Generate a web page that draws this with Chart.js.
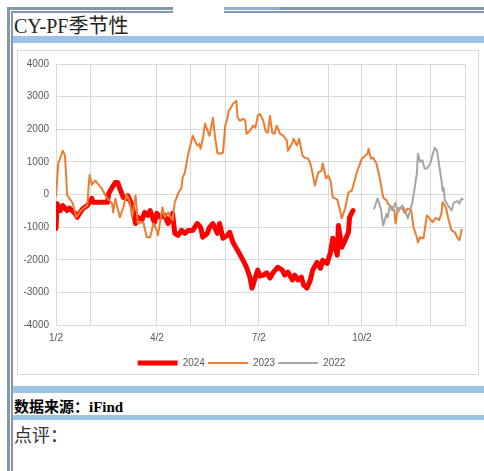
<!DOCTYPE html>
<html>
<head>
<meta charset="utf-8">
<script src="https://cdn.jsdelivr.net/npm/chart.js@4.4.1/dist/chart.umd.min.js"></script>
<style>
    html, body { margin: 0; padding: 0; background: #fff; }
    body { width: 484px; height: 471px; position: relative; overflow: hidden; font-family: "Liberation Serif", "Noto Sans CJK SC", serif; }
    .bar { position: absolute; }
    #title { position: absolute; left: 14px; top: 16px; font-size: 20px; line-height: 20px; color: #222; white-space: nowrap; z-index: 2; }
    #box { position: absolute; left: 17px; top: 50px; width: 462px; height: 325px; border: 1px solid #d9d9d9; box-sizing: border-box; }
    #wrap { position: absolute; left: 18px; top: 51px; width: 460px; height: 327px; }
    #src { position: absolute; left: 14px; top: 395px; font-size: 15px; font-weight: bold; color: #000; white-space: nowrap; }
    #note { position: absolute; left: 14px; top: 421px; font-size: 18px; color: #333; white-space: nowrap; }
</style>
</head>
<body>
<!-- frame lines -->
<div class="bar" style="left:8px;top:7px;width:165px;height:3px;background:#8497b0"></div>
<div class="bar" style="left:11px;top:11px;width:162px;height:2px;background:#8497b0"></div>
<div class="bar" style="left:224px;top:7px;width:56px;height:3px;background:#8eaadb"></div>
<div class="bar" style="left:280px;top:7px;width:204px;height:3px;background:#8497b0"></div>
<div class="bar" style="left:224px;top:11px;width:260px;height:2px;background:#8497b0"></div>
<div class="bar" style="left:7px;top:7px;width:3px;height:464px;background:#8497b0"></div>
<div class="bar" style="left:11px;top:11px;width:2px;height:460px;background:#8497b0"></div>

<div id="title">CY-PF季节性</div>
<div class="bar" style="left:13px;top:36px;width:471px;height:7px;background:#9dc3e6"></div>

<div id="box"></div>
<div id="wrap"><canvas id="seasonChart"></canvas></div>

<div class="bar" style="left:13px;top:386px;width:471px;height:7px;background:#9dc3e6"></div>
<div id="src">数据来源：iFind</div>
<div class="bar" style="left:13px;top:415px;width:471px;height:5px;background:#9dc3e6"></div>
<div id="note">点评：</div>

<script>
// x = days counted from 1/2
const days2024 = [0, 1, 4, 6, 10, 12, 17, 19, 21, 24, 28, 29, 32, 33, 37, 39, 46, 47, 50, 53, 55, 57, 60, 63, 64, 68, 71, 73, 77, 79, 82, 84, 87, 88, 90, 93, 97, 100, 104, 106, 109, 112, 115, 118, 122, 126, 129, 131, 135, 137, 140, 144, 146, 149, 153, 155, 158, 162, 167, 170, 173, 175, 178, 180, 182, 185, 188, 191, 194, 198, 202, 204, 207, 211, 213, 216, 219, 221, 224, 227, 229, 233, 236, 238, 242, 245, 247, 251, 252, 255, 258, 261, 262, 265];
const vals2024 = [-1040, -280, -490, -340, -490, -420, -580, -700, -580, -430, -340, -280, -120, -240, -240, -240, -240, 30, 210, 370, 370, 180, -90, -120, -30, -340, -890, -700, -760, -550, -640, -490, -790, -850, -580, -700, -640, -890, -580, -1190, -1250, -1100, -1190, -1100, -1100, -890, -1000, -1310, -1190, -1010, -890, -1190, -890, -1340, -1250, -1160, -1470, -1710, -2020, -2230, -2530, -2870, -2530, -2320, -2500, -2470, -2400, -2560, -2380, -2230, -2320, -2470, -2380, -2620, -2470, -2620, -2530, -2780, -2870, -2620, -2320, -2080, -2260, -2020, -2110, -1770, -1340, -1860, -950, -1620, -1400, -1160, -700, -490];

const days2023 = [0, 2, 6, 8, 10, 12, 15, 18, 21, 24, 28, 29, 30, 32, 35, 37, 41, 44, 46, 50, 51, 53, 54, 57, 60, 63, 66, 68, 71, 72, 73, 75, 78, 81, 84, 87, 90, 91, 95, 97, 100, 104, 106, 109, 112, 113, 115, 118, 121, 122, 126, 128, 129, 131, 133, 136, 137, 140, 142, 144, 146, 149, 151, 153, 154, 156, 158, 161, 162, 164, 167, 169, 170, 173, 176, 178, 180, 182, 185, 187, 189, 191, 193, 195, 197, 200, 203, 206, 207, 211, 212, 215, 217, 220, 222, 225, 227, 229, 231, 234, 237, 238, 241, 243, 245, 247, 251, 253, 255, 258, 261, 264, 269, 273, 278, 279, 281, 283, 286, 289, 292, 295, 296, 300, 302, 303, 305, 309, 311, 314, 317, 319, 322, 323, 325, 328, 329, 331, 333, 336, 339, 342, 344, 345, 348, 350, 353, 356, 358, 360, 362];
const vals2023 = [-60, 950, 1340, 1190, -30, -120, -275, -700, -550, -430, -340, 210, 600, 300, 430, 340, 180, -30, -120, -275, -550, -120, -275, -700, -400, 0, -240, -700, -30, -400, -890, -860, -860, -1310, -1310, -890, -1100, -1250, -400, -700, -550, -790, -240, 30, 210, 520, 670, 1250, 1650, 1800, 1500, 1550, 1400, 1700, 2170, 1890, 1800, 2350, 1740, 1280, 1250, 1280, 2110, 2320, 2560, 2650, 2780, 2870, 2360, 2260, 2320, 2260, 1860, 1950, 2110, 2050, 2410, 2470, 2260, 1950, 1890, 2410, 1890, 1860, 2110, 1860, 1800, 1650, 1340, 1590, 1710, 1500, 1710, 1190, 1130, 1100, 950, 640, 270, 670, 730, 950, 490, 580, 430, -90, -150, -430, -730, -430, 60, 120, 730, 1100, 1250, 1400, 1100, 1130, 950, 490, -90, -180, -275, -400, -490, -890, -430, -400, -560, -430, -490, -1000, -1310, -1470, -1310, -1340, -1100, -640, -720, -850, -720, -780, -580, -240, -400, -730, -1100, -1160, -1310, -1400, -1080];

const days2022 = [284, 287, 290, 292, 295, 296, 298, 300, 303, 305, 309, 311, 314, 316, 318, 320, 322, 323, 325, 327, 329, 331, 334, 336, 338, 340, 343, 344, 345, 346, 347, 350, 353, 355, 358, 360, 362, 363];
const vals2022 = [-430, -120, -450, -950, -600, -700, -330, -490, -250, -550, -340, -430, -730, -490, -250, 180, 640, 1250, 1000, 1050, 790, 800, 950, 1200, 1430, 1350, 650, 430, 120, 200, -180, -350, -490, -250, -200, -280, -120, -150];

// grid positions (days from 1/2) and the labelled ones
const gridDays = [0, 31, 90, 120, 151, 181, 243, 273, 304, 334, 365];
const tickLabels = { 0: "1/2", 90: "4/2", 181: "7/2", 273: "10/2" };

const toPoints = (xs, ys) => xs.map((x, i) => ({ x, y: ys[i] }));

const ctx = document.getElementById("seasonChart").getContext("2d");

new Chart(ctx, {
    type: "line",
    data: {
        datasets: [
            { label: "2024", data: toPoints(days2024, vals2024), borderColor: "#ff0000", backgroundColor: "#ff0000", borderWidth: 5, order: 3 },
            { label: "2023", data: toPoints(days2023, vals2023), borderColor: "#ed7d31", backgroundColor: "#ed7d31", borderWidth: 2, order: 2 },
            { label: "2022", data: toPoints(days2022, vals2022), borderColor: "#a5a5a5", backgroundColor: "#a5a5a5", borderWidth: 2, order: 1 }
        ]
    },
    options: {
        responsive: true,
        maintainAspectRatio: false,
        animation: false,
        layout: { padding: { top: 12, right: 13, bottom: 0, left: 0 } },
        elements: {
            point: { radius: 0 },
            line: { tension: 0, borderJoinStyle: "round", borderCapStyle: "round" }
        },
        plugins: {
            tooltip: { enabled: false },
            legend: {
                position: "bottom",
                reverse: true,
                labels: {
                    usePointStyle: true,
                    pointStyle: "line",
                    pointStyleWidth: 40,
                    boxHeight: 10,
                    padding: 3,
                    color: "#595959",
                    font: { family: "Liberation Sans", size: 10 }
                }
            }
        },
        scales: {
            x: {
                type: "linear",
                min: 0,
                max: 365,
                afterBuildTicks: (scale) => { scale.ticks = gridDays.map((v) => ({ value: v })); },
                afterFit: (scale) => { scale.height = 30; },
                border: { color: "#d9d9d9" },
                grid: { color: "#d9d9d9", drawTicks: false },
                ticks: {
                    autoSkip: false,
                    maxRotation: 0,
                    padding: 7,
                    color: "#595959",
                    font: { family: "Liberation Sans", size: 10 },
                    callback: (v) => tickLabels[v] || ""
                }
            },
            y: {
                min: -4000,
                max: 4000,
                afterFit: (scale) => { scale.width = 38; },
                border: { color: "#d9d9d9" },
                grid: { color: "#d9d9d9", drawTicks: false },
                ticks: {
                    stepSize: 1000,
                    padding: 7,
                    color: "#595959",
                    font: { family: "Liberation Sans", size: 10 },
                    callback: (v) => String(v)
                }
            }
        }
    }
});
</script>
</body>
</html>
